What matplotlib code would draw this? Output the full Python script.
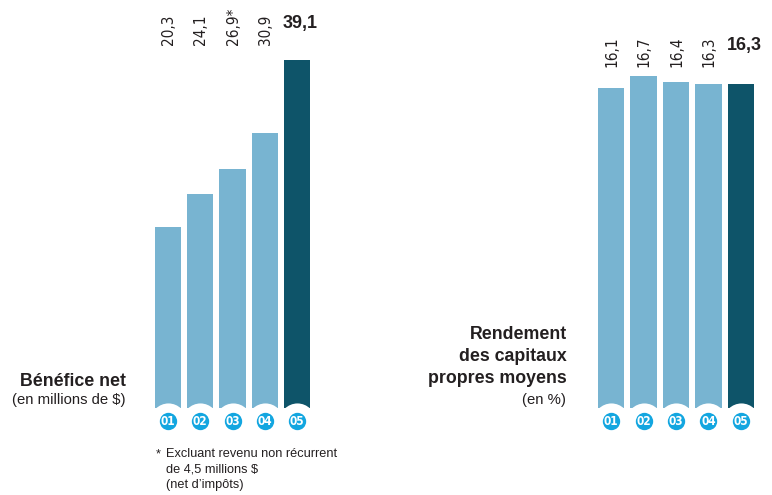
import matplotlib
matplotlib.use("Agg")
import matplotlib.pyplot as plt

# Data
years = ["01", "02", "03", "04", "05"]
net_income = [20.3, 24.1, 26.9, 30.9, 39.1]          # millions $
net_income_labels = ["20,3", "24,1", "26,9*", "30,9", "39,1"]
roe = [16.1, 16.7, 16.4, 16.3, 16.3]                  # %
roe_labels = ["16,1", "16,7", "16,4", "16,3", "16,3"]

LIGHT = "#78b4d1"
DARK = "#0e5469"
CYAN = "#13a6e0"
TEXT = "#231f20"

plt.rcParams["font.family"] = ["Liberation Sans", "DejaVu Sans"]

W, H = 772, 495
fig = plt.figure(figsize=(W / 100, H / 100), dpi=100)
fig.patch.set_facecolor("white")

BASE = 408  # pixel row of the bar baseline


def px_to_units(px, top_units):
    return px / BASE * top_units


def add_panel(x0, x1, top_units, values, labels, label_row_px, bold_base_px):
    ax = fig.add_axes([x0 / W, (H - BASE) / H, (x1 - x0) / W, BASE / H])
    ax.set_xlim(-0.5, 4.5)
    ax.set_ylim(0, top_units)
    ax.axis("off")
    n = len(values)
    colors = [LIGHT] * (n - 1) + [DARK]
    ax.bar(range(n), values, width=0.81, color=colors, zorder=1)
    # year badges below each bar
    ybadge = -px_to_units(13, top_units)
    for i, yr in enumerate(years):
        ax.plot(i, ybadge, "o", ms=26, color="white", mec="none", zorder=2, clip_on=False)
        ax.plot(i, ybadge, "o", ms=12.5, color=CYAN, mec="none", zorder=3, clip_on=False)
        ax.text(i, ybadge - px_to_units(0.3, top_units), yr, color="white", fontsize=8.5,
                fontweight="bold", ha="center", va="center", zorder=4, clip_on=False,
                family="DejaVu Sans", fontstretch="condensed")
    # value labels
    yl = px_to_units(BASE - label_row_px, top_units)
    yb = px_to_units(BASE - bold_base_px, top_units)
    for i, lab in enumerate(labels):
        if i < n - 1:
            ax.text(i + 0.02, yl, lab, rotation=90, ha="center", va="bottom",
                    fontsize=11, color=TEXT, family="DejaVu Sans",
                    fontstretch="condensed")
        else:
            ax.text(i + 0.1, yb, lab, ha="center", va="baseline",
                    fontsize=13, fontweight="bold", color=TEXT)
    return ax


ax1 = add_panel(152, 313, BASE / 8.9, net_income, net_income_labels, 45, 28)
ax2 = add_panel(595, 757, BASE / 19.9, roe, roe_labels, 67, 50)

# titles
fig.text(126 / W, 1 - 386 / H, "Bénéfice net", ha="right", va="baseline",
         fontsize=12.8, fontweight="bold", color=TEXT)
fig.text(125 / W, 1 - 404 / H, "(en millions de $)", ha="right", va="baseline",
         fontsize=10.7, color=TEXT)

for k, line in enumerate(["Rendement", "des capitaux", "propres moyens"]):
    fig.text(567 / W, 1 - (339 + 22 * k) / H, line, ha="right", va="baseline",
             fontsize=12.8, fontweight="bold", color=TEXT)
fig.text(566 / W, 1 - 404 / H, "(en %)", ha="right", va="baseline",
         fontsize=10.7, color=TEXT)

# footnote
fig.text(156 / W, 1 - 457 / H, "*", ha="left", va="baseline", fontsize=9.2, color=TEXT)
for k, line in enumerate(["Excluant revenu non récurrent", "de 4,5 millions $", "(net d’impôts)"]):
    fig.text(166 / W, 1 - (457 + 15.5 * k) / H, line, ha="left", va="baseline",
             fontsize=9.2, color=TEXT)

fig.savefig("out.png", dpi=100, facecolor="white")
